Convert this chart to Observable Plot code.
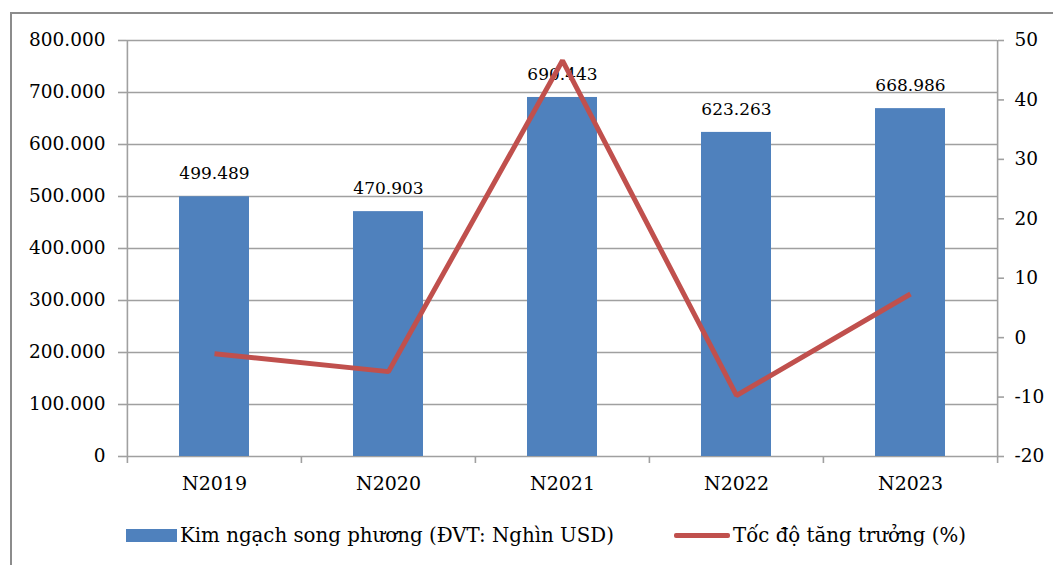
<!DOCTYPE html>
<html>
<head>
<meta charset="utf-8">
<script src="https://cdn.jsdelivr.net/npm/d3@7"></script>
<script src="https://cdn.jsdelivr.net/npm/@observablehq/plot@0.6"></script>
<style>
  html, body { margin: 0; padding: 0; background: #fff; }
  #wrap { position: relative; width: 1053px; height: 565px; overflow: hidden; font-family: "DejaVu Serif", serif; }
  #frame { position: absolute; left: 10px; top: 12px; width: 1100px; height: 600px; border-left: 2px solid #8c8c8c; border-top: 2px solid #8c8c8c; }
  #chart { position: absolute; left: 0; top: 0; }
  #legend { position: absolute; top: 521px; left: 0; width: 1053px; height: 28px; font-size: 19.8px; color: #000; }
  .lg { position: absolute; display: flex; align-items: center; height: 28px; white-space: nowrap; }
</style>
</head>
<body>
<div id="wrap">
  <div id="frame"></div>
  <div id="chart"></div>
  <div id="legend">
    <div class="lg" style="left:126px"><span style="display:inline-block;width:51px;height:13px;background:#4F81BD;margin-right:3px"></span>Kim ngạch song phương (ĐVT: Nghìn USD)</div>
    <div class="lg" style="left:674px"><span style="display:inline-block;width:56px;height:5px;background:#C0504D;border-radius:2px;margin-right:3px"></span>Tốc độ tăng trưởng (%)</div>
  </div>
</div>
<script>
const categories = ["N2019", "N2020", "N2021", "N2022", "N2023"];
const tradeValues = [499489, 470903, 690443, 623263, 668986];
const growthRates = [-2.7, -5.72, 46.62, -9.73, 7.34];
const leftTicks = [0, 100000, 200000, 300000, 400000, 500000, 600000, 700000, 800000];
const rightTicks = [-20, -10, 0, 10, 20, 30, 40, 50];

const leftMax = 800000;
const rightMin = -20, rightMax = 50;
const toLeft = g => (g - rightMin) / (rightMax - rightMin) * leftMax;
const fromLeft = v => v / leftMax * (rightMax - rightMin) + rightMin;

const fmtDot = d => d3.format(",")(d).replace(/,/g, ".");

const data = categories.map((c, i) => ({cat: c, value: tradeValues[i], growth: growthRates[i], gy: toLeft(growthRates[i])}));

const W = 1053, H = 500;
const mL = 126, mR = 56, mT = 40, mB = 44;
const step = (W - mL - mR) / categories.length;
const FONT = "'DejaVu Serif', serif";
const GRID = "#a0a0a0";

const chart = Plot.plot({
  width: W,
  height: H,
  marginLeft: mL,
  marginRight: mR,
  marginTop: mT,
  marginBottom: mB,
  style: {fontFamily: FONT, fontSize: "18.5px", color: "#000", background: "transparent"},
  x: {domain: categories, paddingInner: 0.6, paddingOuter: 0.3, label: null},
  y: {domain: [0, leftMax], label: null},
  marks: [
    Plot.ruleY(leftTicks, {stroke: GRID, strokeWidth: 1.6}),
    Plot.ruleX([0], {x: () => categories[0], dx: -step / 2, y1: 0, y2: leftMax, stroke: GRID, strokeWidth: 1.6}),
    Plot.ruleX([0], {x: () => categories[categories.length - 1], dx: step / 2, y1: 0, y2: leftMax, stroke: GRID, strokeWidth: 1.6}),
    Plot.ruleX(categories, {x: d => d, dx: -step / 2, y1: 0, y2: 0, insetBottom: -7, stroke: GRID, strokeWidth: 1.6}),
    Plot.ruleX([categories[categories.length - 1]], {x: d => d, dx: step / 2, y1: 0, y2: 0, insetBottom: -7, stroke: GRID, strokeWidth: 1.6}),
    Plot.barY(data, {x: "cat", y: "value", fill: "#4F81BD"}),
    Plot.text(data, {x: "cat", y: "value", text: d => fmtDot(d.value), dy: -23, fontSize: 17, fill: "#000"}),
    Plot.line(data, {x: "cat", y: "gy", stroke: "#C0504D", strokeWidth: 5, strokeLinejoin: "miter", strokeLinecap: "butt"}),
    Plot.axisY({ticks: leftTicks, tickFormat: fmtDot, tickSize: 8, tickPadding: 13, stroke: GRID, fontSize: 18.5, fill: "#000", label: null}),
    Plot.axisY({anchor: "right", ticks: rightTicks.map(toLeft), tickFormat: d => String(Math.round(fromLeft(d))), tickSize: 6, tickPadding: 11, stroke: GRID, fontSize: 18.5, fill: "#000", label: null}),
    Plot.axisX({tickSize: 0, tickPadding: 20, fontSize: 19, fill: "#000", label: null})
  ]
});
chart.querySelectorAll("[aria-label='y-axis tick']").forEach(g => { g.setAttribute("stroke-width", "1.6"); });
document.getElementById("chart").appendChild(chart);
</script>
</body>
</html>
